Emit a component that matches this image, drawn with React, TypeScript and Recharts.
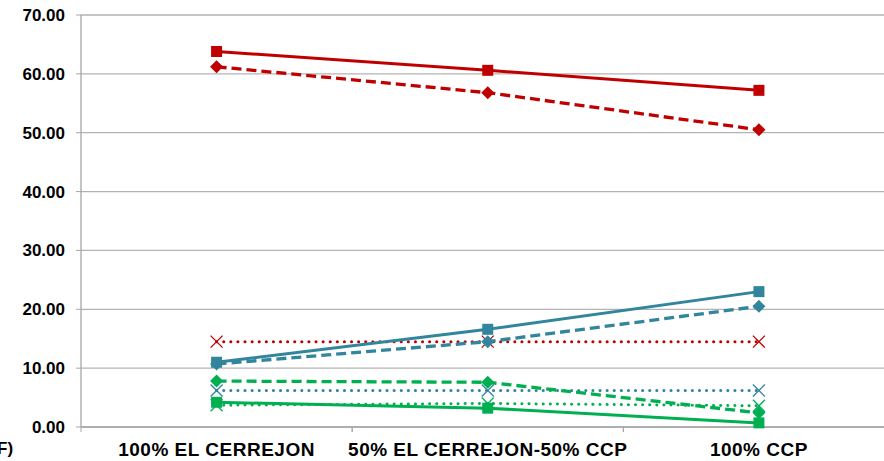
import { LineChart, Line, XAxis, YAxis, CartesianGrid } from "recharts";

const categories = ["100% EL CERREJON", "50% EL CERREJON-50% CCP", "100% CCP"];
const yTicks = [0, 10, 20, 30, 40, 50, 60, 70];

const redSolid = [63.8, 60.6, 57.2];
const redDashed = [61.2, 56.8, 50.5];
const redDotted = [14.5, 14.5, 14.5];
const tealSolid = [11.0, 16.6, 23.0];
const tealDashed = [10.7, 14.5, 20.5];
const tealDotted = [6.2, 6.2, 6.2];
const greenDashed = [7.8, 7.6, 2.4];
const greenSolid = [4.2, 3.2, 0.7];
const greenDotted = [3.7, 4.0, 3.6];

const RED = "#C00000";
const TEAL = "#31859C";
const GREEN = "#00B050";
const AXIS = "#A6A6A6";
const FONT = "'Liberation Sans', Arial, sans-serif";

const CHART_W = 896;
const CHART_H = 461;
const YAXIS_W = 81;
const MARGIN_R = 1.5;
const BAND = (CHART_W - MARGIN_R - YAXIS_W) / categories.length;

const data = categories.map((cat, i) => ({
  cat,
  redSolid: redSolid[i],
  redDashed: redDashed[i],
  redDotted: redDotted[i],
  tealSolid: tealSolid[i],
  tealDashed: tealDashed[i],
  tealDotted: tealDotted[i],
  greenDashed: greenDashed[i],
  greenSolid: greenSolid[i],
  greenDotted: greenDotted[i],
}));

const marker = (shape: string, color: string) => (p: any) => {
  const { cx, cy, index } = p;
  const key = `${shape}-${color}-${index}`;
  if (cx == null || cy == null) return <g key={key} />;
  if (shape === "square") {
    return <rect key={key} x={cx - 5.5} y={cy - 5.5} width={11} height={11} fill={color} />;
  }
  if (shape === "diamond") {
    const r = 6.5;
    return (
      <polygon
        key={key}
        points={`${cx},${cy - r} ${cx + r},${cy} ${cx},${cy + r} ${cx - r},${cy}`}
        fill={color}
      />
    );
  }
  const r = 6;
  return (
    <g key={key} stroke={color} strokeWidth={1.3}>
      <line x1={cx - r} y1={cy - r} x2={cx + r} y2={cy + r} />
      <line x1={cx - r} y1={cy + r} x2={cx + r} y2={cy - r} />
    </g>
  );
};

const CategoryTick = ({ x, y, payload }: any) => (
  <g>
    <line x1={x - BAND / 2} y1={y} x2={x - BAND / 2} y2={y + 5} stroke={AXIS} />
    <line x1={x + BAND / 2} y1={y} x2={x + BAND / 2} y2={y + 5} stroke={AXIS} />
    <text
      x={x}
      y={y + 29}
      textAnchor="middle"
      fill="#000"
      fontSize={19}
      letterSpacing={0.5}
      fontWeight="bold"
      fontFamily={FONT}
    >
      {payload.value}
    </text>
  </g>
);

const DASH = "10 5";
const DOT = "0.1 7";

export default function App() {
  return (
    <div
      style={{
        position: "absolute",
        left: 0,
        top: 0,
        width: 884,
        height: 461,
        overflow: "hidden",
        background: "#fff",
      }}
    >
      <LineChart
        width={CHART_W}
        height={CHART_H}
        data={data}
        margin={{ top: 15, right: MARGIN_R, bottom: 0, left: 0 }}
      >
        <CartesianGrid vertical={false} stroke="#B3B3B3" strokeWidth={1.3} />
        <XAxis
          dataKey="cat"
          axisLine={{ stroke: AXIS, strokeWidth: 1.3 }}
          tickLine={false}
          tickSize={0}
          tickMargin={0}
          height={34}
          interval={0}
          padding={{ left: BAND / 2, right: BAND / 2 }}
          tick={<CategoryTick />}
        />
        <YAxis
          width={YAXIS_W}
          domain={[0, 70]}
          ticks={yTicks}
          interval={0}
          tickFormatter={(v: number) => v.toFixed(2)}
          axisLine={{ stroke: AXIS, strokeWidth: 1.3 }}
          tickLine={{ stroke: AXIS }}
          tickSize={5}
          tickMargin={11}
          tick={{ fill: "#000", fontSize: 17, fontWeight: "bold", fontFamily: FONT }}
        />

        <Line dataKey="redDotted" stroke={RED} strokeWidth={3} strokeDasharray={DOT} strokeLinecap="round" dot={marker("x", RED)} isAnimationActive={false} />
        <Line dataKey="tealDotted" stroke={TEAL} strokeWidth={3} strokeDasharray={DOT} strokeLinecap="round" dot={marker("x", TEAL)} isAnimationActive={false} />
        <Line dataKey="greenDotted" stroke={GREEN} strokeWidth={3} strokeDasharray={DOT} strokeLinecap="round" dot={marker("x", GREEN)} isAnimationActive={false} />

        <Line dataKey="redDashed" stroke={RED} strokeWidth={3.3} strokeDasharray={DASH} dot={marker("diamond", RED)} isAnimationActive={false} />
        <Line dataKey="tealDashed" stroke={TEAL} strokeWidth={3.3} strokeDasharray={DASH} dot={marker("diamond", TEAL)} isAnimationActive={false} />
        <Line dataKey="greenDashed" stroke={GREEN} strokeWidth={3.3} strokeDasharray={DASH} dot={marker("diamond", GREEN)} isAnimationActive={false} />

        <Line dataKey="redSolid" stroke={RED} strokeWidth={3} dot={marker("square", RED)} isAnimationActive={false} />
        <Line dataKey="tealSolid" stroke={TEAL} strokeWidth={3} dot={marker("square", TEAL)} isAnimationActive={false} />
        <Line dataKey="greenSolid" stroke={GREEN} strokeWidth={3} dot={marker("square", GREEN)} isAnimationActive={false} />
      </LineChart>
      <div
        style={{
          position: "absolute",
          left: -3,
          top: 439,
          fontFamily: FONT,
          fontWeight: "bold",
          fontSize: 17,
          lineHeight: "20px",
          color: "#000",
        }}
      >
        F)
      </div>
    </div>
  );
}
